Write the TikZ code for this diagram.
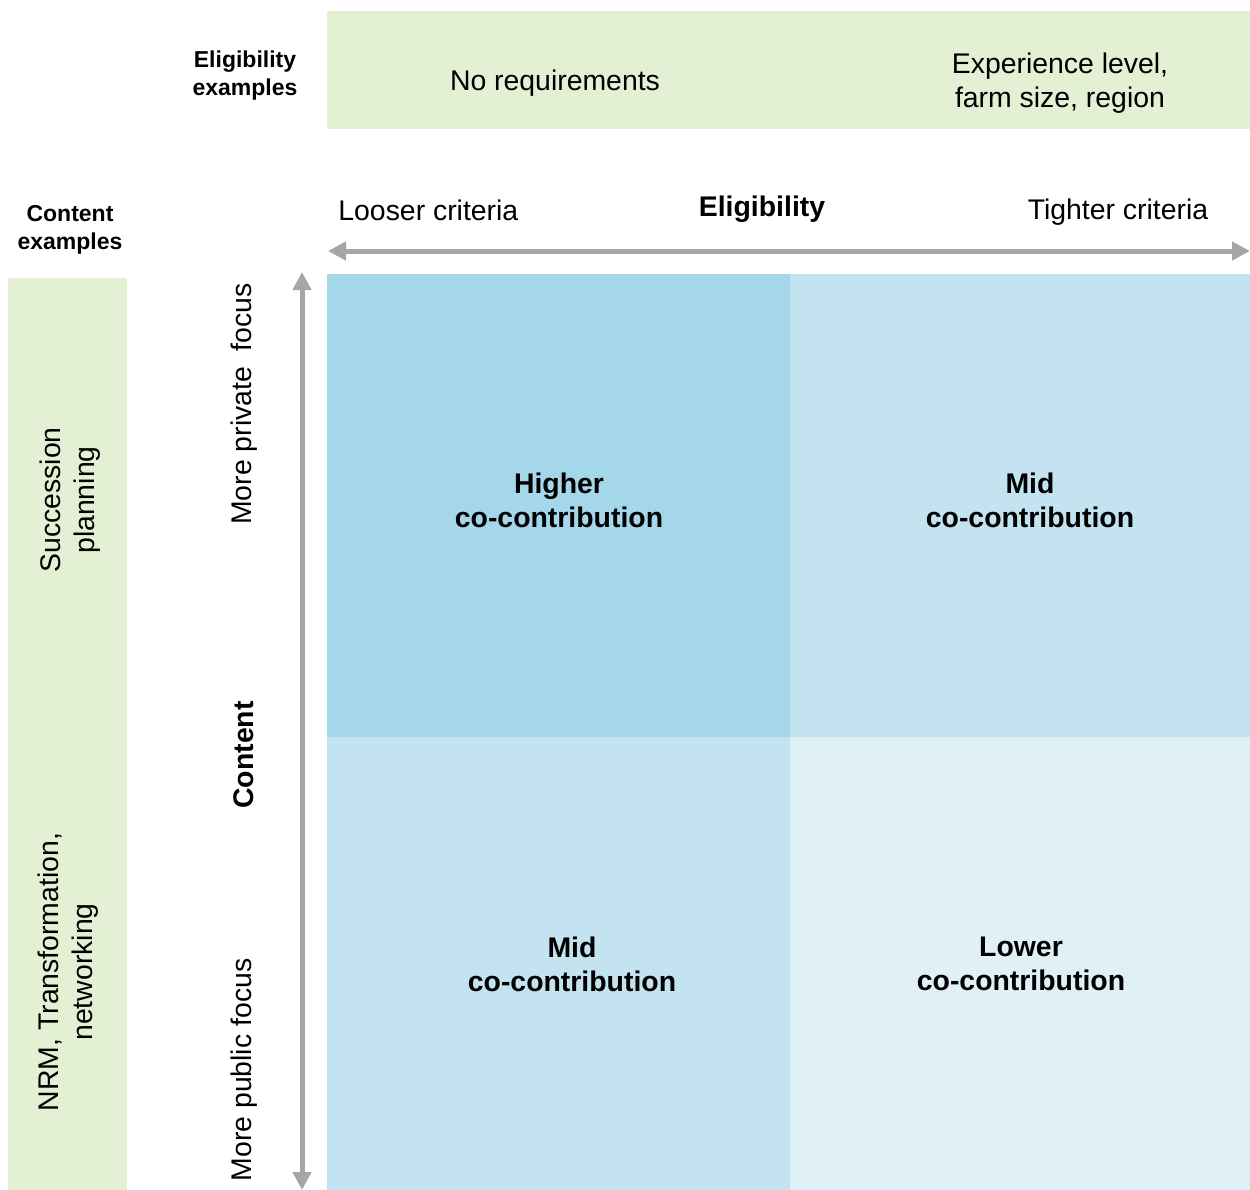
\documentclass[tikz,border=0pt]{standalone}
\usepackage{fontspec}
\setmainfont{Liberation Sans}
\usetikzlibrary{arrows.meta}
\definecolor{bandgreen}{HTML}{E4F0D3}
\definecolor{qdark}{HTML}{A5D7EA}
\definecolor{qmid}{HTML}{C2E3EF}
\definecolor{qlight}{HTML}{DFF0F7}
\definecolor{axisgray}{HTML}{A6A6A6}
\tikzset{
  lbl/.style={font=\fontsize{14.2pt}{17pt}\selectfont, align=center, inner sep=0pt},
  blbl/.style={font=\bfseries\fontsize{14.2pt}{17pt}\selectfont, align=center, inner sep=0pt},
  small/.style={font=\bfseries\fontsize{11.5pt}{14pt}\selectfont, align=center, inner sep=0pt},
  axis/.style={draw=axisgray, line width=2.5pt, {Triangle[length=9pt,width=9pt]}-{Triangle[length=9pt,width=9pt]}},
}
\begin{document}
\begin{tikzpicture}[x=0.5pt,y=-0.5pt]
\useasboundingbox (0,0) rectangle (1250,1190);
% bands
\fill[bandgreen] (327,11) rectangle (1250,129);
\fill[bandgreen] (8,278) rectangle (127,1190);
% quadrants
\fill[qdark] (327,274) rectangle (790,737);
\fill[qmid] (790,274) rectangle (1250,737);
\fill[qmid] (327,737) rectangle (790,1190);
\fill[qlight] (790,737) rectangle (1250,1190);
% axes
\coordinate (hl) at (328,251);
\coordinate (hr) at (1250,251);
\coordinate (vt) at (302,272);
\coordinate (vb) at (302,1190);
\draw[axis] (hl) -- (hr);
\draw[axis] (vb) -- (vt);
% top labels
\node[small] (eex) at (245,76) {Eligibility\\examples};
\node[lbl] (noreq) at (555,83) {No requirements};
\node[lbl] (exp) at (1060,83) {Experience level,\\farm size, region};
\node[small] (cex) at (70,230) {Content\\examples};
\node[lbl, anchor=west] (loose) at (338,210) {Looser criteria};
\node[blbl] (elig) at (762,209) {Eligibility};
\node[lbl] (tight) at (1118,212) {Tighter criteria};
% left rotated
\node[lbl, rotate=90] (succ) at (70,500) {Succession\\planning};
\node[lbl, rotate=90] (nrm) at (68,972) {NRM, Transformation,\\networking};
\node[lbl, rotate=90] (priv) at (244,404) {More private\ \ focus};
\node[blbl, rotate=90] (cont) at (244,755) {Content};
\node[lbl, rotate=90] (pub) at (244,1070) {More public focus};
% quadrant labels
\node[blbl] (q1) at (559,500) {Higher\\co-contribution};
\node[blbl] (q2) at (1030,500) {Mid\\co-contribution};
\node[blbl] (q3) at (572,964) {Mid\\co-contribution};
\node[blbl] (q4) at (1021,964) {Lower\\co-contribution};
\end{tikzpicture}
\end{document}
